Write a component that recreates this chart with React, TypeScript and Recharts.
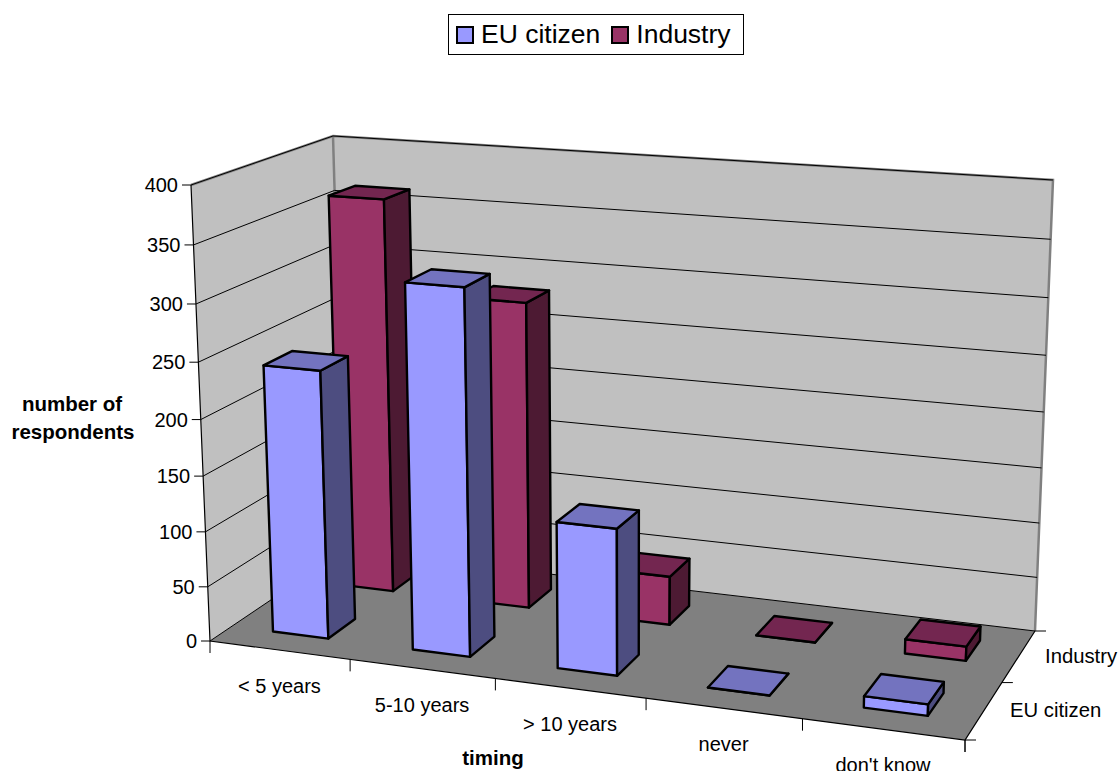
import { BarChart, Bar, XAxis, YAxis, CartesianGrid, Legend } from "recharts";

const timing = ["< 5 years", "5-10 years", "> 10 years", "never", "don't know"];
const euCitizen = [241, 323, 130, 0, 10];
const industry = [363, 281, 45, 0, 13];
const yTicks = [0, 50, 100, 150, 200, 250, 300, 350, 400];
const depthLabels = ["EU citizen", "Industry"];

const data = timing.map((t, i) => ({ timing: t, "EU citizen": euCitizen[i], Industry: industry[i] }));

const FONT = "'Liberation Sans', Arial, sans-serif";
const W = 1120;
const H = 771;
// flat plot rectangle the scales work in, everything is then projected to the 3d box
const PLOT = { left: 100, right: 1000, top: 100, bottom: 700 };
const BAND = (PLOT.right - PLOT.left) / timing.length;
const BAR = BAND * 0.4;

type Pt = [number, number];

// unit square to quad, corners in order (0,0) (1,0) (1,1) (0,1)
function quad(p0: Pt, p1: Pt, p2: Pt, p3: Pt) {
  const dx1 = p1[0] - p2[0];
  const dx2 = p3[0] - p2[0];
  const sx = p0[0] - p1[0] + p2[0] - p3[0];
  const dy1 = p1[1] - p2[1];
  const dy2 = p3[1] - p2[1];
  const sy = p0[1] - p1[1] + p2[1] - p3[1];
  const det = dx1 * dy2 - dx2 * dy1;
  const g = (sx * dy2 - dx2 * sy) / det;
  const h = (dx1 * sy - sx * dy1) / det;
  const a = p1[0] - p0[0] + g * p1[0];
  const b = p3[0] - p0[0] + h * p3[0];
  const d = p1[1] - p0[1] + g * p1[1];
  const e = p3[1] - p0[1] + h * p3[1];
  return (u: number, v: number): Pt => {
    const w = g * u + h * v + 1;
    return [(a * u + b * v + p0[0]) / w, (d * u + e * v + p0[1]) / w];
  };
}

const floor = quad([210, 641], [965, 740], [1035, 631], [345, 550]);
// how far the floor corners move to reach the top of the box
const LIFT: Pt[] = [
  [-19, -456],
  [13, -495],
  [18, -451],
  [-12, -414],
];
const K = -0.056;

function project(u: number, v: number, h: number): Pt {
  const t = (h * (1 + K)) / (1 + K * h);
  const a = floor(u, v);
  const lift = [0, 1].map(
    (i) =>
      LIFT[0][i] * (1 - u) * (1 - v) + LIFT[1][i] * u * (1 - v) + LIFT[2][i] * u * v + LIFT[3][i] * (1 - u) * v,
  );
  return [a[0] + lift[0] * t, a[1] + lift[1] * t];
}

const toU = (x: number) => (x - PLOT.left) / (PLOT.right - PLOT.left);
const toH = (y: number) => (PLOT.bottom - y) / (PLOT.bottom - PLOT.top);
const pts = (list: Pt[]) => list.map((p) => `${p[0]},${p[1]}`).join(" ");

function Room() {
  const c000 = project(0, 0, 0);
  const c100 = project(1, 0, 0);
  const c110 = project(1, 1, 0);
  const c010 = project(0, 1, 0);
  const c001 = project(0, 0, 1);
  const c011 = project(0, 1, 1);
  const c111 = project(1, 1, 1);
  return (
    <g>
      <polygon points={pts([c000, c010, c011, c001])} fill="#c0c0c0" />
      <polygon points={pts([c010, c110, c111, c011])} fill="#c0c0c0" />
      <polygon points={pts([c000, c100, c110, c010])} fill="#808080" />
      <polyline points={pts([c001, c011, c111, c110])} fill="none" stroke="#808080" strokeWidth={2.5} />
      <polyline points={pts([c011, c010])} fill="none" stroke="#808080" strokeWidth={2.5} />
      <polyline points={pts([c001, c000, c100, c110])} fill="none" stroke="#000" strokeWidth={1.2} />
    </g>
  );
}

function DepthAxis() {
  const marks = [0, 0.5, 1];
  const labelPos: Pt[] = [
    [1010, 717],
    [1045, 663],
  ];
  const corner = project(1, 0, 0);
  return (
    <g>
      {marks.map((v) => {
        const p = project(1, v, 0);
        return <line key={v} x1={p[0]} y1={p[1]} x2={p[0] + 11} y2={p[1]} stroke="#000" strokeWidth={1} />;
      })}
      <line x1={corner[0]} y1={corner[1]} x2={corner[0]} y2={corner[1] + 12} stroke="#000" strokeWidth={1} />
      {depthLabels.map((d, i) => (
        <text key={d} x={labelPos[i][0]} y={labelPos[i][1]} fontFamily={FONT} fontSize={20.3} fill="#000">
          {d}
        </text>
      ))}
    </g>
  );
}

function gridLine(props: any) {
  const h = toH(props.y1);
  const a = project(0, 0, h);
  const b = project(0, 1, h);
  const c = project(1, 1, h);
  return <polyline key={props.key ?? props.y1} points={pts([a, b, c])} fill="none" stroke="#000" strokeWidth={1} />;
}

function YTick(props: any) {
  const p = project(0, 0, toH(props.y));
  return (
    <g>
      <line x1={p[0] - 9} y1={p[1]} x2={p[0]} y2={p[1]} stroke="#000" strokeWidth={1} />
      <text x={p[0] - 13} y={p[1] + 7} textAnchor="end" fontFamily={FONT} fontSize={20} fill="#000">
        {props.payload.value}
      </text>
    </g>
  );
}

function XTick(props: any) {
  const u = toU(props.x);
  const half = BAND / (PLOT.right - PLOT.left) / 2;
  const right = project(u + half, 0, 0);
  const left = project(u - half, 0, 0);
  const mid = project(u, 0, 0);
  return (
    <g>
      {props.index === 0 && <line x1={left[0]} y1={left[1]} x2={left[0]} y2={left[1] + 12} stroke="#000" strokeWidth={1} />}
      <line x1={right[0]} y1={right[1]} x2={right[0]} y2={right[1] + 12} stroke="#000" strokeWidth={1} />
      <text x={mid[0]} y={mid[1] + 43} textAnchor="middle" fontFamily={FONT} fontSize={20} fill="#000">
        {props.payload.value}
      </text>
    </g>
  );
}

function Box(props: any, v0: number, v1: number, faces: { front: string; side: string; top: string }) {
  const { x, y, width, height } = props;
  const u0 = toU(x);
  const u1 = toU(x + width);
  const h0 = toH(y + height);
  const h1 = toH(y);
  const stroke = { stroke: "#000", strokeWidth: 2.4, strokeLinejoin: "round" as const };
  return (
    <g>
      <polygon
        points={pts([project(u0, v0, h0), project(u1, v0, h0), project(u1, v0, h1), project(u0, v0, h1)])}
        fill={faces.front}
        {...stroke}
      />
      <polygon
        points={pts([project(u1, v0, h0), project(u1, v1, h0), project(u1, v1, h1), project(u1, v0, h1)])}
        fill={faces.side}
        {...stroke}
      />
      <polygon
        points={pts([project(u0, v0, h1), project(u1, v0, h1), project(u1, v1, h1), project(u0, v1, h1)])}
        fill={faces.top}
        {...stroke}
      />
    </g>
  );
}

const euFaces = { front: "#9999ff", side: "#4d4d80", top: "#7373bf" };
const industryFaces = { front: "#993366", side: "#4d1a33", top: "#732650" };

function LegendBox() {
  const items = [
    { name: "EU citizen", color: euFaces.front },
    { name: "Industry", color: industryFaces.front },
  ];
  return (
    <div
      style={{
        boxSizing: "border-box",
        width: 296,
        height: 41,
        border: "1px solid #000",
        background: "#fff",
        display: "flex",
        alignItems: "center",
        paddingLeft: 7,
        fontFamily: FONT,
        fontSize: 26.5,
        color: "#000",
        whiteSpace: "nowrap",
      }}
    >
      {items.map((it) => (
        <span key={it.name} style={{ display: "flex", alignItems: "center", marginRight: 11 }}>
          <span style={{ boxSizing: "border-box", width: 18, height: 18, border: "2.5px solid #000", background: it.color, marginRight: 7 }} />
          {it.name}
        </span>
      ))}
    </div>
  );
}

export default function App() {
  return (
    <div style={{ position: "absolute", left: 0, top: 0, width: W, height: H, overflow: "hidden", background: "#fff" }}>
      <BarChart
        width={W}
        height={H}
        data={data}
        barSize={BAR}
        barGap={-BAR}
        margin={{ left: 40, right: W - PLOT.right, top: PLOT.top, bottom: H - PLOT.bottom - 40 }}
      >
        <Room />
        <CartesianGrid vertical={false} horizontal={gridLine} zIndex={0} />
        <XAxis dataKey="timing" height={40} axisLine={false} tickLine={false} interval={0} tick={XTick} />
        <YAxis width={60} domain={[0, 400]} ticks={yTicks} axisLine={false} tickLine={false} tick={YTick} />
        <DepthAxis />
        <Legend
          align="center"
          verticalAlign="middle"
          content={() => <LegendBox />}
          wrapperStyle={{ position: "absolute", left: 448, top: 14, width: 296, height: 41 }}
        />
        <Bar dataKey="Industry" isAnimationActive={false} shape={(p: any) => Box(p, 0.65, 0.85, industryFaces)} />
        <Bar dataKey="EU citizen" isAnimationActive={false} shape={(p: any) => Box(p, 0.15, 0.35, euFaces)} />
        <text fontFamily={FONT} fontSize={20.5} fontWeight="bold" textAnchor="middle" fill="#000">
          <tspan x={72} y={411}>number of</tspan>
          <tspan x={73} y={439}>respondents</tspan>
        </text>
        <text x={493} y={765} fontFamily={FONT} fontSize={20.5} fontWeight="bold" textAnchor="middle" fill="#000">
          timing
        </text>
      </BarChart>
    </div>
  );
}
